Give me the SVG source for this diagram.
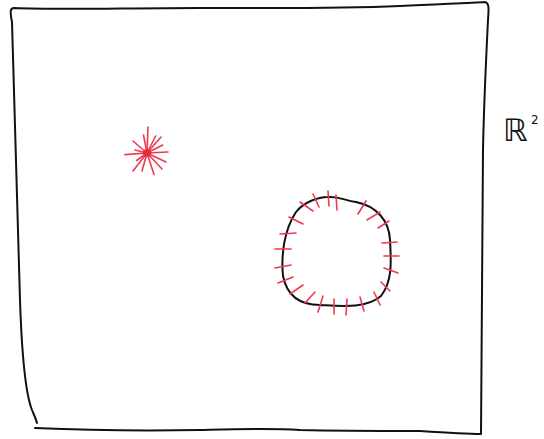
<svg xmlns="http://www.w3.org/2000/svg" width="544" height="439" viewBox="0 0 544 439">
<style>
.ink{fill:none;stroke:#111;stroke-width:2;stroke-linecap:round;stroke-linejoin:round}
.red{fill:none;stroke:#f0384f;stroke-width:1.6;stroke-linecap:round}
.lbl{font-family:"DejaVu Sans",sans-serif;fill:#111}
</style>
<rect width="544" height="439" fill="#fff"/>
<g id="plane">
<path class="ink" d="M12,22 C10,12 10,8 14,8 C60,10 120,8 200,8 C280,8 330,9 400,6 C440,4 470,3 485,2 C489,3 489,8 488,20 C486,60 484,100 483,150 C482,250 481,350 481,433"/>
<path class="ink" d="M12,22 C14,100 17,200 20,300 C22,360 26,395 32,410 C34,415 36,419 37,423"/>
<path class="ink" d="M35,428 C80,430 140,431 200,430 C240,429 270,428 300,430 C340,431 380,431 420,431 C450,433 470,434 481,434"/>
</g>
<g id="point">
<g class="red">
<line x1="147" y1="153" x2="148" y2="127"/>
<line x1="147" y1="153" x2="143.5" y2="135"/>
<line x1="147" y1="153" x2="155.7" y2="136"/>
<line x1="147" y1="153" x2="161" y2="137"/>
<line x1="147" y1="153" x2="133" y2="141"/>
<line x1="147" y1="153" x2="162.7" y2="145"/>
<line x1="147" y1="153" x2="135" y2="150"/>
<line x1="147" y1="153" x2="125" y2="154.6"/>
<line x1="147" y1="153" x2="168" y2="152"/>
<line x1="147" y1="153" x2="166" y2="162"/>
<line x1="147" y1="153" x2="136.6" y2="160.5"/>
<line x1="147" y1="153" x2="133" y2="171"/>
<line x1="147" y1="153" x2="142" y2="171"/>
<line x1="147" y1="153" x2="154" y2="174.5"/>
<line x1="147" y1="153" x2="162" y2="169"/>
</g>
<circle cx="147" cy="153" r="4" fill="#e0303f"/>
</g>
<g id="loop">
<path class="ink" d="M328,197 C340,196 345,201 356,202 C376,206 389,220 390,240 C391,260 393,281 381,296 C366,309 340,306 320,305 C300,305 287,296 283,276 C281,255 284,230 296,212 C304,202 318,197 328,197 Z"/>
<g class="red">
<line x1="313" y1="194" x2="319" y2="207"/>
<line x1="328" y1="191" x2="329" y2="206"/>
<line x1="336" y1="195" x2="337" y2="210"/>
<line x1="366" y1="201" x2="358" y2="214"/>
<line x1="380" y1="212" x2="367" y2="220"/>
<line x1="389" y1="221" x2="378" y2="228"/>
<line x1="397" y1="242" x2="382" y2="243"/>
<line x1="399" y1="256" x2="384" y2="256"/>
<line x1="398" y1="273" x2="384" y2="268"/>
<line x1="390" y1="291" x2="381" y2="282"/>
<line x1="380" y1="305" x2="374" y2="292"/>
<line x1="364" y1="311" x2="360" y2="297"/>
<line x1="346" y1="315" x2="347" y2="299"/>
<line x1="334" y1="314" x2="334" y2="299"/>
<line x1="318" y1="312" x2="323" y2="296"/>
<line x1="305" y1="303" x2="315" y2="292"/>
<line x1="290" y1="294" x2="303" y2="285"/>
<line x1="278" y1="283" x2="293" y2="277"/>
<line x1="275" y1="268" x2="291" y2="265"/>
<line x1="275" y1="249" x2="291" y2="249"/>
<line x1="280" y1="234" x2="296" y2="233"/>
<line x1="289" y1="217" x2="303" y2="224"/>
<line x1="300" y1="202" x2="313" y2="211"/>
</g>
</g>
<g id="label">
<text class="lbl" x="503" y="141" font-size="31">ℝ</text>
<text class="lbl" x="531" y="124" font-size="12">2</text>
</g>
</svg>
